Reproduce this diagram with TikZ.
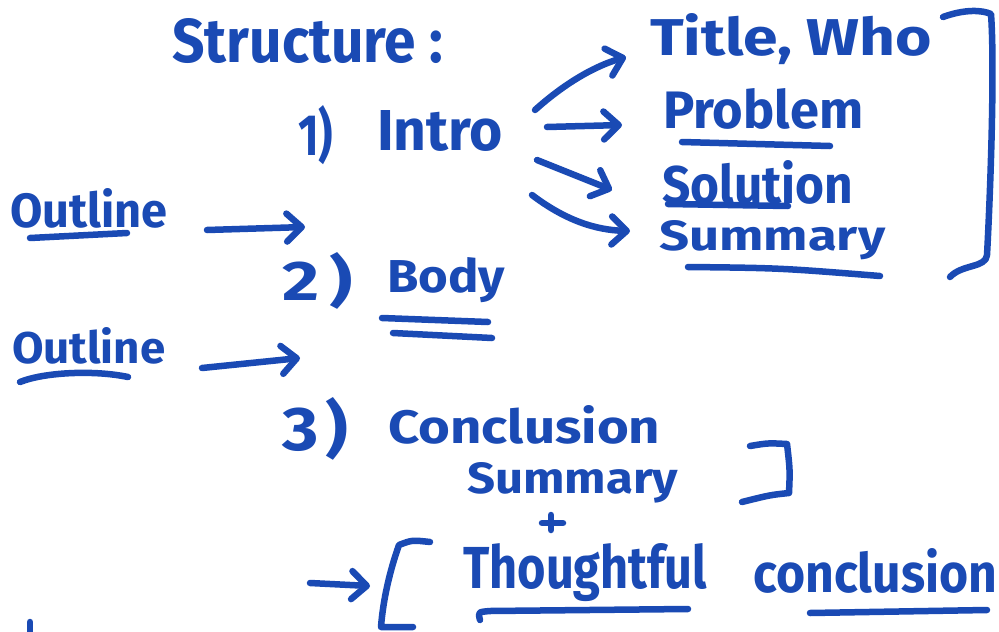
\documentclass[tikz,border=0pt]{standalone}
\usepackage{fontspec}
\setmainfont{Fira Sans}
\usetikzlibrary{arrows.meta}
\definecolor{ink}{RGB}{26,74,180}
\newcommand\hw[3]{\resizebox{#1pt}{#2pt}{\bfseries #3}}
\begin{document}
\begin{tikzpicture}[x=1pt,y=-1pt,
  pen/.style={draw=ink, line width=6.5pt, line cap=round, line join=round},
  txt/.style={text=ink, inner sep=0pt, anchor=north west},
  arr/.style={pen, -{Straight Barb[length=15pt,width=28pt,round]}}]
\useasboundingbox (0,0) rectangle (999,632);
% texts
\node[txt] (structure) at (172,18) {\hw{271}{44}{Structure :}};
\node[txt] (one) at (298,105) {\hw{35}{50}{1)}};
\node[txt] (intro) at (377,110) {\hw{126}{40}{Intro}};
\node[txt] (title) at (650,13) {\hw{282}{42}{Title, Who}};
\node[txt] (problem) at (663,88) {\hw{200}{40}{Problem}};
\node[txt] (solution) at (662,160) {\hw{191}{43}{Solution}};
\node[txt] (summaryA) at (659,220) {\hw{226}{30}{Summary}};
\node[txt] (outlineA) at (10,188) {\hw{157}{39}{Outline}};
\node[txt] (two) at (282,252) {\hw{71}{48}{2\kern0.15em)}};
\node[txt] (body) at (387,257) {\hw{118}{35}{Body}};
\node[txt] (outlineB) at (12,327) {\hw{153}{36}{Outline}};
\node[txt] (three) at (282,397) {\hw{66}{53}{3\kern0.1em)}};
\node[txt] (conclusionA) at (388,405) {\hw{272}{38}{Conclusion}};
\node[txt] (summaryB) at (467,462) {\hw{211}{31}{Summary}};
\node[txt] (thoughtful) at (463,543) {\hw{244}{45}{Thoughtful}};
\node[txt] (conclusionB) at (753,548) {\hw{244}{44}{conclusion}};
% plus sign
\coordinate (plusL) at (542,523);
\coordinate (plusR) at (563,523);
\coordinate (plusT) at (551,515);
\coordinate (plusB) at (551,530);
\draw[pen] (plusL) -- (plusR) (plusT) -- (plusB);
% underlines
\draw[pen] (682,142) -- (830,146);
\draw[pen] (668,204) -- (788,206);
\draw[pen] (688,267) .. controls (780,268) .. (880,276);
\draw[pen] (30,238) -- (127,233);
\draw[pen] (20,382) .. controls (45,372) and (95,370) .. (128,377);
\draw[pen] (382,318) -- (488,322);
\draw[pen] (393,333) -- (492,338);
\draw[pen] (480,620) .. controls (478,612) .. (490,611) -- (688,609);
\draw[pen] (810,613) -- (987,610);
% brackets
\draw[pen] (943,17) .. controls (965,9) and (982,10) .. (991,14)
  .. controls (995,70) and (990,200) .. (987,255)
  .. controls (986,268) and (962,264) .. (950,277);
\draw[pen] (750,446) .. controls (768,443) .. (787,444)
  .. controls (790,470) .. (789,493) .. controls (770,495) .. (742,502);
\draw[pen] (430,542) .. controls (412,540) .. (399,545)
  .. controls (390,570) and (383,600) .. (381,627) -- (413,627);
% arrows from Intro
\coordinate (i1) at (535,110); \coordinate (t1) at (626,57);
\coordinate (i2) at (547,127); \coordinate (t2) at (622,125);
\coordinate (i3) at (537,160); \coordinate (t3) at (612,190);
\coordinate (i4) at (532,195); \coordinate (t4) at (630,231);
\draw[arr] (i1) .. controls (565,83) and (595,66) .. (t1);
\draw[arr] (i2) -- (t2);
\draw[arr] (i3) -- (t3);
\draw[arr] (i4) .. controls (565,220) and (595,230) .. (t4);
% outline arrows
\coordinate (o1) at (207,230); \coordinate (p1) at (305,227);
\coordinate (o2) at (202,368); \coordinate (p2) at (300,358);
\draw[arr] (o1) -- (p1);
\draw[arr] (o2) -- (p2);
% bottom arrow
\coordinate (b1) at (310,583); \coordinate (b2) at (370,586);
\draw[arr] (b1) -- (b2);
% stray mark
\coordinate (m1) at (30,622); \coordinate (m2) at (30,634);
\draw[pen] (m1) -- (m2);
\end{tikzpicture}
\end{document}
